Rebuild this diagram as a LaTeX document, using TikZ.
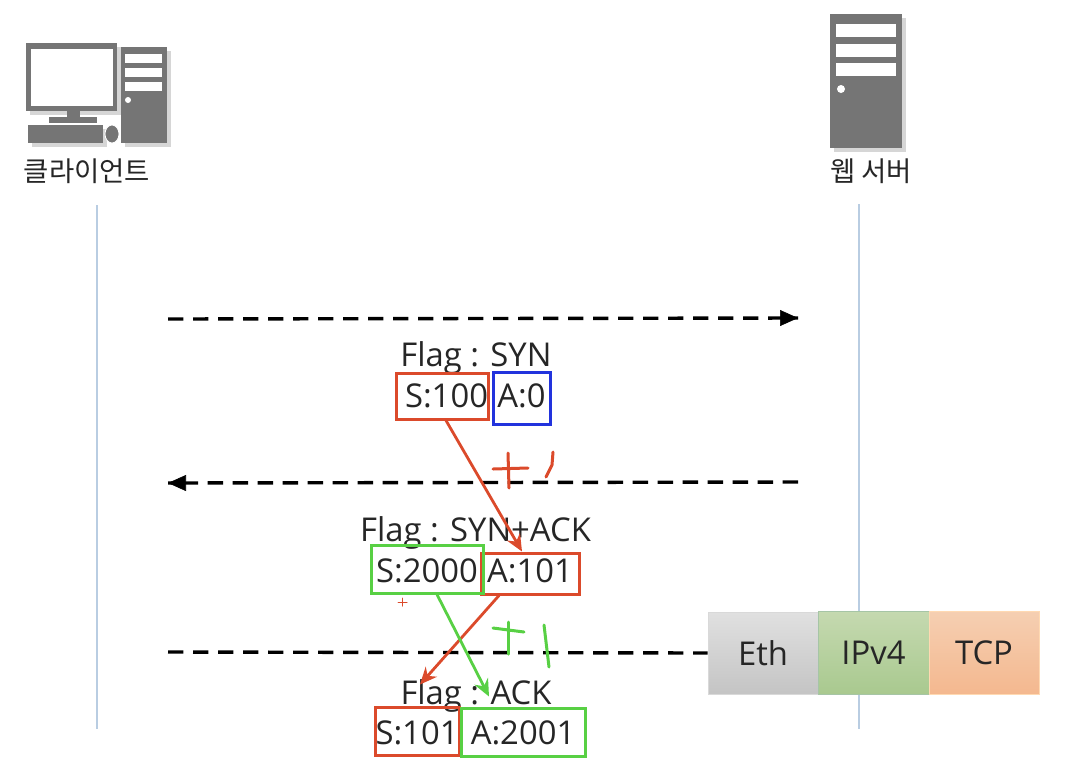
\documentclass[tikz,border=0pt]{standalone}
\usepackage{fontspec}
\setmainfont{Open Sans}
\newfontfamily\krfont{Noto Sans CJK KR}
\usetikzlibrary{arrows.meta}
\tikzset {>=Stealth}
\def\px{0.75pt}
\definecolor{iconcol}{HTML}{757575}
\definecolor{shadecol}{HTML}{D6D6D6}
\definecolor{lifecol}{HTML}{B9CDE2}
\definecolor{redcol}{HTML}{DB4A2B}
\definecolor{bluecol}{HTML}{2233DD}
\definecolor{greencol}{HTML}{58D044}
\definecolor{textcol}{HTML}{262626}
\tikzset{
  flaglabel/.style={text=textcol,font=\fontsize{24.6}{24.6}\selectfont,inner sep=0pt},
  seqbox/.style={draw=#1,line width=3*\px,inner sep=0pt,text=textcol,text height=17pt,text depth=0pt,font=\fontsize{24.6}{24.6}\selectfont},
  stackbox/.style={line width=0.75*\px,inner sep=0pt,text=textcol,font=\fontsize{24.6}{24.6}\selectfont},
  hostlabel/.style={text=textcol,font=\krfont\fontsize{20.6}{20.6}\selectfont,inner sep=0pt},
  msgline/.style={line width=3.4*\px,dash pattern=on 11.5pt off 7.25pt},
  msgtip/.style={-{Triangle[length=18*\px,width=16*\px]},black},
  seqarrow/.style={draw=#1,line width=2.8*\px,-{Stealth[length=17*\px,width=15*\px]}},
  penmark/.style={draw=#1,line width=3*\px,line cap=round},
}
\begin{document}
\begin{tikzpicture}[x=\px,y=-\px]
\useasboundingbox (0,0) rectangle (1070,772);

\coordinate (clienttop) at (97,205);
\coordinate (clientend) at (97,729);
\coordinate (servertop) at (859,204);
\coordinate (serverend) at (859,729);
\draw[lifecol,line width=1.2*\px] (clienttop) -- (clientend);
\draw[lifecol,line width=1.2*\px] (servertop) -- (serverend);

% client icon
\fill[shadecol] (30,47) rectangle (121,115);
\fill[shadecol] (125,51) rectangle (171,147);
\fill[shadecol] (32,129) rectangle (107,147);
\fill[iconcol] (26,43) rectangle (117,111);
\fill[white] (31,49) rectangle (113,106);
\fill[iconcol] (67,111) rectangle (80,117);
\fill[iconcol] (49,117) rectangle (97,123);
\fill[iconcol] (28,125) rectangle (103,143);
\fill[iconcol] (121,47) rectangle (167,143);
\fill[white] (125,54) rectangle (162,63);
\fill[white] (125,68) rectangle (162,77);
\fill[white] (125,82) rectangle (162,91);
\fill[white] (128,100) circle[radius=3];
\fill[iconcol,draw=white,line width=0.8*\px] (112,134) ellipse[x radius=7,y radius=9];
\node[hostlabel] (client) at (87,171) {클라이언트};

% server icon
\fill[shadecol] (834,18) rectangle (906,152);
\fill[iconcol] (830,14) rectangle (902,148);
\fill[white] (836,24) rectangle (896,37);
\fill[white] (836,44) rectangle (896,57);
\fill[white] (836,63) rectangle (896,76);
\fill[white] (841,89) circle[radius=4];
\node[hostlabel] (server) at (871,171) {웹 서버};

% protocol stack
\node[stackbox,draw=black!15,top color=black!12,bottom color=black!23,minimum width=110*\px,minimum height=82*\px] (eth) at (763,653) {Eth};
\node[stackbox,draw=green!35!black!35,top color={rgb,255:red,197;green,217;blue,176},bottom color={rgb,255:red,169;green,201;blue,143},minimum width=111*\px,minimum height=83*\px] (ipv) at (873.5,652.5) {IPv4};
\node[stackbox,draw=orange!30,top color={rgb,255:red,245;green,207;blue,178},bottom color={rgb,255:red,244;green,184;blue,143},minimum width=110*\px,minimum height=83*\px] (tcp) at (984,652.5) {TCP};

% messages
\coordinate (synstart) at (168,319);
\coordinate (synend) at (798,318);
\coordinate (ackstart) at (798,482);
\coordinate (ackend) at (168,483);
\coordinate (laststart) at (168,652);
\draw[msgline] (synstart) -- (synend);
\draw[msgtip] (779,318) -- (synend);
\draw[msgline] (ackstart) -- (ackend);
\draw[msgtip] (187,483) -- (ackend);
\draw[msgline] (laststart) -- (eth.west);

\node[flaglabel] (flagone) at (476,358) {Flag : SYN};
\node[seqbox=redcol,minimum width=90*\px,minimum height=46*\px] (seqone) at (442,396) {\hspace*{6.75pt}S:100};
\node[seqbox=bluecol,text depth=3pt,minimum width=57*\px,minimum height=52*\px] (ackone) at (521.5,398) {A:0};

\node[flaglabel] (flagtwo) at (475.5,533) {Flag : SYN+ACK};
\node[seqbox=redcol,text depth=3pt,minimum width=98*\px,minimum height=41*\px] (acktwo) at (530,573.5) {A:101};
\node[seqbox=greencol,text height=20pt,minimum width=112*\px,minimum height=48*\px] (seqtwo) at (427,569) {S:2000};

\node[flaglabel] (flagthree) at (476,696) {Flag : ACK};
\node[seqbox=redcol,text height=20pt,minimum width=84*\px,minimum height=48*\px] (seqthree) at (417,731) {S:101};
\node[seqbox=greencol,text height=18.5pt,minimum width=124*\px,minimum height=48*\px] (ackthree) at (523,732) {A:2001};

\draw[seqarrow=redcol] ([xshift=4*\px]seqone.south) -- ([xshift=-8*\px]acktwo.north);
\draw[seqarrow=redcol] ([xshift=-31*\px]acktwo.south) -- ([xshift=3*\px,yshift=21*\px]seqthree.north);
\draw[seqarrow=greencol] ([xshift=10*\px]seqtwo.south) -- ([xshift=-34*\px,yshift=10*\px]ackthree.north);

% handwritten marks
\draw[penmark=redcol] (493,469) -- (528,468);
\draw[penmark=redcol] (508,453) -- (509,488);
\draw[penmark=redcol] (553,452) -- (552,465) -- (546,477);
\draw[penmark=redcol,line width=\px] (398,602) -- (407,602);
\draw[penmark=redcol,line width=\px] (402.5,598) -- (402.5,606);
\draw[penmark=greencol] (493,628) -- (524,632);
\draw[penmark=greencol] (508,622) -- (508,654);
\draw[penmark=greencol] (544,625) -- (549,667);
\end{tikzpicture}
\end{document}
